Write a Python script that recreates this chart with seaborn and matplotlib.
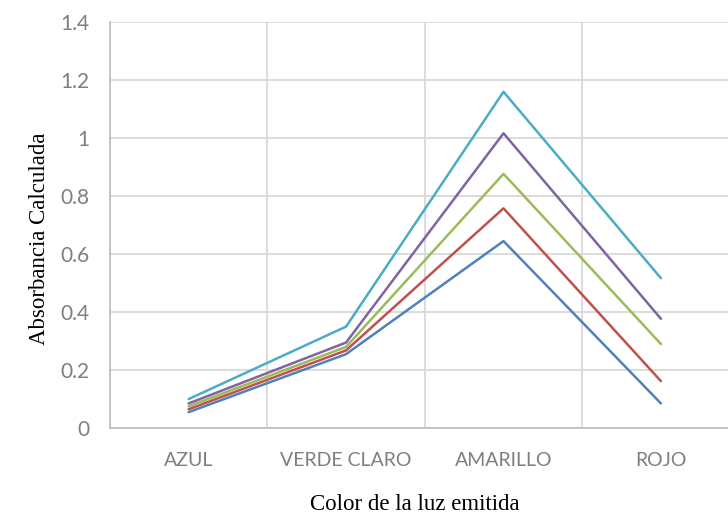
import matplotlib
matplotlib.use("Agg")
import matplotlib.pyplot as plt
import seaborn as sns
import pandas as pd
from matplotlib.ticker import FixedLocator

# Data
categorias = ["AZUL", "VERDE CLARO", "AMARILLO", "ROJO"]
serie_1 = [0.055, 0.255, 0.645, 0.085]
serie_2 = [0.065, 0.268, 0.758, 0.162]
serie_3 = [0.075, 0.280, 0.877, 0.290]
serie_4 = [0.085, 0.295, 1.017, 0.377]
serie_5 = [0.100, 0.350, 1.160, 0.517]
nombres = ["Serie 1", "Serie 2", "Serie 3", "Serie 4", "Serie 5"]
colores = ["#4F81BD", "#C0504D", "#9BBB59", "#8064A2", "#4BACC6"]

rows = []
for nombre, valores in zip(nombres, [serie_1, serie_2, serie_3, serie_4, serie_5]):
    for i, (cat, v) in enumerate(zip(categorias, valores)):
        rows.append({"pos": i, "categoria": cat, "valor": v, "serie": nombre})
df = pd.DataFrame(rows)

sns.set_style("white")
grid_color = "#D9D9D9"
tick_color = "#7F7F7F"

fig = plt.figure(figsize=(7.28, 5.17), dpi=100)
ax = fig.add_axes([0.151, 0.172, 0.865, 0.785])

sns.lineplot(data=df, x="pos", y="valor", hue="serie", palette=colores,
             linewidth=1.8, legend=False, ax=ax, sort=False)

ax.set_xlim(-0.5, 3.5)
ax.set_ylim(0, 1.4)
ax.set_xticks(range(len(categorias)))
ax.set_xticklabels(categorias)
ax.xaxis.set_minor_locator(FixedLocator([0.5, 1.5, 2.5]))
ax.set_yticks([0, 0.2, 0.4, 0.6, 0.8, 1.0, 1.2, 1.4])
ax.set_yticklabels(["0", "0.2", "0.4", "0.6", "0.8", "1", "1.2", "1.4"])

ax.grid(False)
ax.yaxis.grid(True, which="major", color=grid_color, linewidth=1.3)
ax.xaxis.grid(True, which="minor", color=grid_color, linewidth=1.3)
ax.set_axisbelow(True)

ax.tick_params(axis="both", which="both", length=0, colors=tick_color)
ax.tick_params(axis="x", pad=17, labelsize=14)
ax.tick_params(axis="y", pad=15, labelsize=15)
for lbl in ax.get_xticklabels() + ax.get_yticklabels():
    lbl.set_family("Lato")

for side in ["top", "right"]:
    ax.spines[side].set_visible(False)
for side in ["left", "bottom"]:
    ax.spines[side].set_color("#BFBFBF")
    ax.spines[side].set_linewidth(1.3)

ax.set_xlabel("Color de la luz emitida", family="Liberation Serif",
              fontsize=16.5, color="black", labelpad=18)
ax.set_ylabel("Absorbancia Calculada", family="Liberation Serif",
              fontsize=16.5, color="black", labelpad=7)
ax.xaxis.label.set_x(0.484)
ax.yaxis.label.set_y(0.466)

fig.savefig("out.png", dpi=100)
